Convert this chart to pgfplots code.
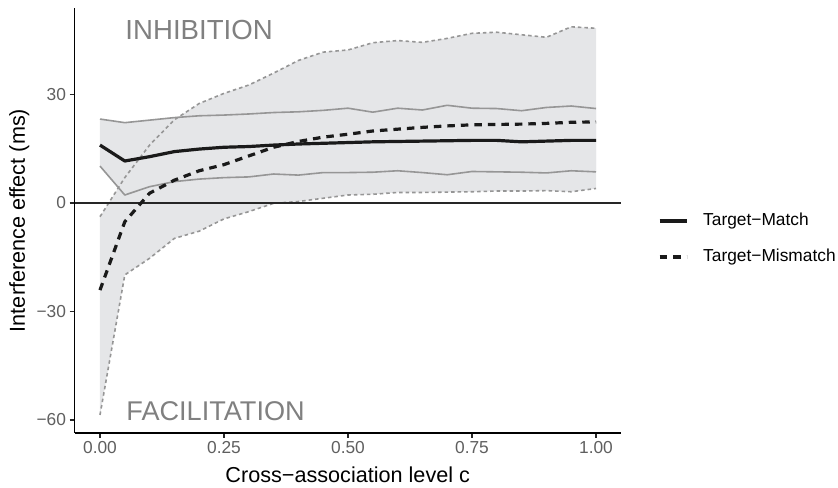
\documentclass[border=0pt]{standalone}
\usepackage{fontspec}
\setmainfont{Liberation Sans}
\usepackage{pgfplots}
\pgfplotsset{compat=1.18}
\usepackage{pgfplotstable}
\usepgfplotslibrary{fillbetween}

\definecolor{ribbon}{RGB}{229,230,232}
\definecolor{bandgray}{RGB}{150,150,150}
\definecolor{tickgray}{RGB}{95,95,95}
\definecolor{labgray}{RGB}{128,128,128}
\definecolor{meanblack}{RGB}{26,26,26}

\pgfplotstableread{
c mm mlo mhi xm xlo xhi
0.00 16.0 10.2 23.2 -24.1 -58.6 -3.8
0.05 11.6 2.2 22.2 -5.2 -19.9 7.0
0.10 12.8 4.5 22.9 2.7 -15.3 16.0
0.15 14.2 5.9 23.6 6.3 -9.8 23.0
0.20 14.9 6.6 24.1 8.9 -7.8 27.5
0.25 15.4 7.0 24.3 10.6 -4.4 30.3
0.30 15.6 7.2 24.6 13.0 -2.4 32.6
0.35 16.0 8.0 25.0 15.4 -0.1 35.9
0.40 16.3 7.7 25.2 17.0 0.4 39.4
0.45 16.5 8.4 25.6 18.2 1.3 41.7
0.50 16.7 8.4 26.2 19.0 2.2 42.3
0.55 16.9 8.5 25.1 19.9 2.4 44.3
0.60 17.0 8.9 26.2 20.4 2.9 44.9
0.65 17.1 8.4 25.7 20.9 2.9 44.4
0.70 17.2 7.8 27.0 21.3 3.0 45.5
0.75 17.3 8.7 26.2 21.6 3.1 46.9
0.80 17.3 8.6 26.1 21.7 3.3 47.2
0.85 16.9 8.5 25.5 21.8 3.3 46.5
0.90 17.1 8.3 26.4 22.0 3.4 45.8
0.95 17.3 8.9 26.8 22.3 3.1 48.7
1.00 17.3 8.6 26.1 22.4 4.0 48.3
}\data

\begin{document}
\begin{tikzpicture}
\begin{axis}[
  at={(74.5bp,55bp)}, anchor=south west,
  scale only axis, width=546.5bp, height=425bp,
  xmin=-0.0514, xmax=1.0504, ymin=-63.6, ymax=53.9,
  axis lines*=left,
  axis line style={-, line width=1.1bp, black},
  tick align=outside, major tick length=5bp,
  tick style={line width=1.1bp, black!85},
  xtick={0,0.25,0.5,0.75,1}, xticklabels={0.00,0.25,0.50,0.75,1.00},
  ytick={-60,-30,0,30}, yticklabels={−60,−30,0,30},
  ticklabel style={font=\fontsize{17.4}{20}\selectfont, text=tickgray},
  xlabel={Cross−association level c},
  ylabel={Interference effect (ms)},
  label style={font=\fontsize{21.7}{24}\selectfont, text=black},
  xlabel style={at={(axis description cs:0.5,-0.1176)}, anchor=base},
  ylabel style={at={(axis description cs:-0.0906,0.5)}, anchor=base},
  legend image code/.code={\draw[#1] (0bp,0bp) -- (27bp,0bp);},
  legend cell align=left,
  legend style={at={(axis description cs:1.0677,0.518)}, anchor=north west,
    draw=none, fill=none, inner sep=0pt, outer sep=0pt,
    font=\fontsize{17.4}{20}\selectfont,
    column sep=15bp, row sep=19.8bp,
    nodes={inner sep=0pt, text height=12.5bp, text depth=3.7bp}},
]
\addplot[draw=none, name path=xhi, forget plot] table[x=c,y=xhi]{\data};
\addplot[draw=none, name path=xlo, forget plot] table[x=c,y=xlo]{\data};
\addplot[draw=none, name path=mhi, forget plot] table[x=c,y=mhi]{\data};
\addplot[draw=none, name path=mlo, forget plot] table[x=c,y=mlo]{\data};
\addplot[fill=ribbon, draw=none, forget plot] fill between[of=xhi and xlo];
\addplot[fill=ribbon, draw=none, forget plot] fill between[of=mhi and mlo];

\addplot[bandgray, line width=1.6bp, line join=round, forget plot] table[x=c,y=mhi]{\data};
\addplot[bandgray, line width=1.6bp, line join=round, forget plot] table[x=c,y=mlo]{\data};
\addplot[bandgray, line width=1.6bp, dash pattern=on 3.5bp off 3bp, forget plot] table[x=c,y=xhi]{\data};
\addplot[bandgray, line width=1.6bp, dash pattern=on 3.5bp off 3bp, forget plot] table[x=c,y=xlo]{\data};

\addplot[black!85, line width=1.2bp, forget plot] coordinates {(-0.0514,0) (1.0504,0)};

\addplot[meanblack, line width=3.2bp, line join=round] table[x=c,y=mm]{\data};
\addlegendentry{Target−Match}
\addplot[meanblack, line width=3.2bp, line join=round, dash pattern=on 7.5bp off 6bp] table[x=c,y=xm]{\data};
\addlegendentry{Target−Mismatch}

\node[anchor=west, inner sep=0pt, text=labgray, font=\fontsize{27.7}{30}\selectfont] at (axis cs:0.051,47.8) {INHIBITION};
\node[anchor=west, inner sep=0pt, text=labgray, font=\fontsize{27.2}{30}\selectfont] at (axis cs:0.053,-57.7) {FACILITATION};
\end{axis}
\pgfresetboundingbox
\useasboundingbox (0bp,0bp) rectangle (838bp,488bp);
\end{tikzpicture}
\end{document}
